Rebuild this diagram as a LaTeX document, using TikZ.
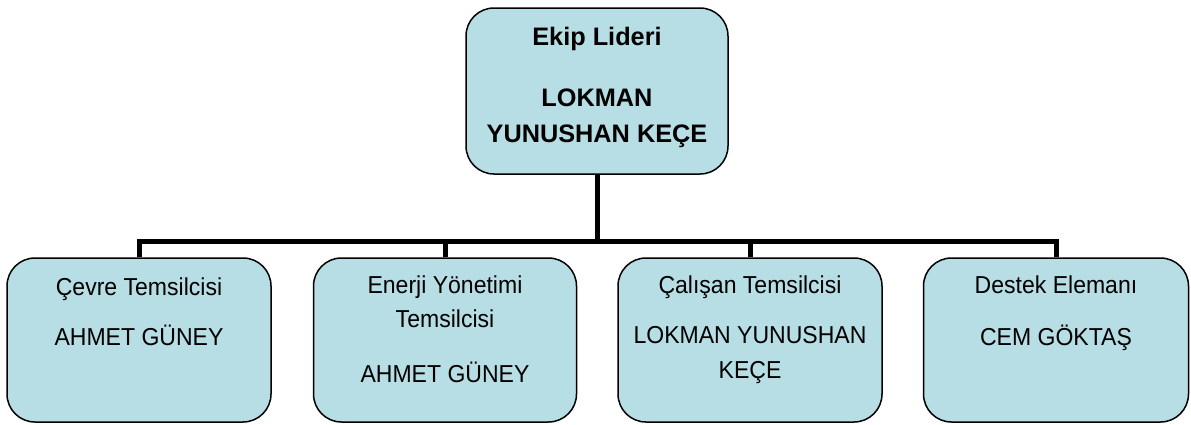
\documentclass[tikz,border=0pt]{standalone}
\usepackage{fontspec}
\setmainfont{Liberation Sans}
\definecolor{boxfill}{RGB}{183,222,228}
\newcommand{\narrowtxt}[1]{\scalebox{0.94}[1]{#1}}
\tikzset{
  x=1pt,y=-1pt,
  box/.style={draw=black,line width=1.5pt,fill=boxfill,rounded corners=28pt,inner sep=0pt},
  conn/.style={line width=5pt,line cap=butt},
  txt/.style={anchor=base,inner sep=0pt,font=\fontsize{24.5}{28}\selectfont},
  btxt/.style={anchor=base,inner sep=0pt,font=\fontsize{25.3}{30}\selectfont\bfseries},
}
\begin{document}
\begin{tikzpicture}
\useasboundingbox (0,0) rectangle (1191,424);
% boxes
\node[box,minimum width=262pt,minimum height=166pt] (top) at (597,91) {};
\node[box,minimum width=264pt,minimum height=164pt] (b1) at (139,340) {};
\node[box,minimum width=263pt,minimum height=164pt] (b2) at (445,340) {};
\node[box,minimum width=264pt,minimum height=164pt] (b3) at (750,340) {};
\node[box,minimum width=265pt,minimum height=164pt] (b4) at (1056,340) {};
% texts
\node[btxt] (t1) at (597,45) {Ekip Lideri};
\node[btxt] (t2) at (597,106) {LOKMAN};
\node[btxt] (t3) at (597,142) {YUNUSHAN KEÇE};
\node[txt] (a1) at (139,295) {\narrowtxt{Çevre Temsilcisi}};
\node[txt] (a2) at (139,345) {\narrowtxt{AHMET GÜNEY}};
\node[txt] (c1) at (445,293) {\narrowtxt{Enerji Yönetimi}};
\node[txt] (c2) at (445,327) {\narrowtxt{Temsilcisi}};
\node[txt] (c3) at (445,382) {\narrowtxt{AHMET GÜNEY}};
\node[txt] (d1) at (750,293) {\narrowtxt{Çalışan Temsilcisi}};
\node[txt] (d2) at (750,343) {\narrowtxt{LOKMAN YUNUSHAN}};
\node[txt] (d3) at (750,378) {\narrowtxt{KEÇE}};
\node[txt] (e1) at (1056,293) {\narrowtxt{Destek Elemanı}};
\node[txt] (e2) at (1056,345) {\narrowtxt{CEM GÖKTAŞ}};
% connectors
\coordinate (j) at (597,241);
\draw[conn] (top.south) -- (j);
\draw[conn,line join=miter] (b1.north) |- (j);
\draw[conn,line join=miter] (b4.north) |- (j);
\draw[conn] (b2.north) -- (b2.north |- j);
\draw[conn] (b3.north) -- (b3.north |- j);
\end{tikzpicture}
\end{document}
